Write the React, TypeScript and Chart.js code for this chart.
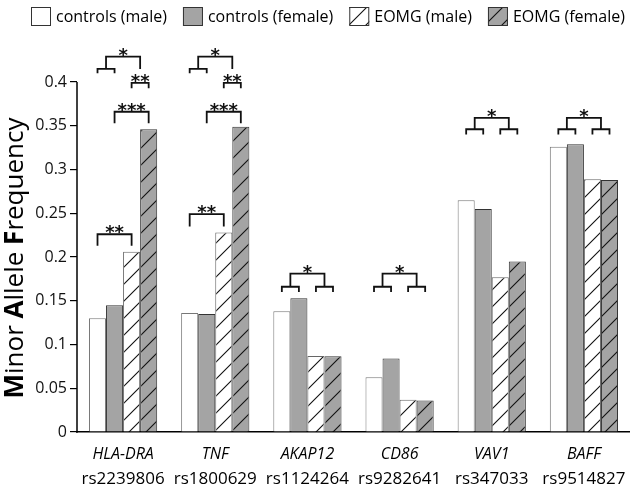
import React, { useEffect, useRef } from 'react';
import { Chart, registerables } from 'chart.js';
Chart.register(...registerables);

// ---- data ----
const genes = ['HLA-DRA', 'TNF', 'AKAP12', 'CD86', 'VAV1', 'BAFF'];
const snps = ['rs2239806', 'rs1800629', 'rs1124264', 'rs9282641', 'rs347033', 'rs9514827'];
const seriesNames = ['controls (male)', 'controls (female)', 'EOMG (male)', 'EOMG (female)'];
const controlsMale = [0.130, 0.136, 0.138, 0.0625, 0.265, 0.326];
const controlsFemale = [0.145, 0.135, 0.153, 0.084, 0.255, 0.329];
const eomgMale = [0.206, 0.228, 0.087, 0.037, 0.177, 0.289];
const eomgFemale = [0.346, 0.349, 0.0865, 0.036, 0.195, 0.288];
const yAxisTop = 0.4;
const yStep = 0.05;
const yMax = 0.4423;
const yTitleParts = [
  { t: 'M', b: true }, { t: 'inor ', b: false },
  { t: 'A', b: true }, { t: 'llele ', b: false },
  { t: 'F', b: true }, { t: 'requency', b: false },
];
// significance brackets (values in data units)
const simpleBrackets = [
  { cat: 0, from: 2, to: 3, y: 0.399, leg: 0.393, label: '**' },
  { cat: 0, from: 1, to: 3, y: 0.366, leg: 0.353, label: '***' },
  { cat: 0, from: 0, to: 2, y: 0.226, leg: 0.213, label: '**' },
  { cat: 1, from: 2, to: 3, y: 0.399, leg: 0.393, label: '**' },
  { cat: 1, from: 1, to: 3, y: 0.366, leg: 0.353, label: '***' },
  { cat: 1, from: 0, to: 2, y: 0.249, leg: 0.235, label: '**' },
];
const treeBrackets = [
  { cat: 0, top: 0.429, left: 0.415, leftLeg: 0.410, right: 0.415, rightLeg: null, label: '*' },
  { cat: 1, top: 0.429, left: 0.415, leftLeg: 0.410, right: 0.415, rightLeg: null, label: '*' },
  { cat: 2, top: 0.181, left: 0.166, leftLeg: 0.160, right: 0.166, rightLeg: 0.160, label: '*' },
  { cat: 3, top: 0.181, left: 0.166, leftLeg: 0.160, right: 0.166, rightLeg: 0.160, label: '*' },
  { cat: 4, top: 0.359, left: 0.346, leftLeg: 0.340, right: 0.346, rightLeg: 0.340, label: '*' },
  { cat: 5, top: 0.359, left: 0.346, leftLeg: 0.340, right: 0.346, rightLeg: 0.340, label: '*' },
];

const GRAY = '#a4a4a4';
const FONT = '"Open Sans", "Liberation Sans", sans-serif';

function makeHatch(bg: string, line: string) {
  const s = 17;
  const c = document.createElement('canvas');
  c.width = s; c.height = s;
  const g = c.getContext('2d')!;
  g.fillStyle = bg; g.fillRect(0, 0, s, s);
  g.strokeStyle = line; g.lineWidth = 1.1;
  g.beginPath();
  g.moveTo(0, s); g.lineTo(s, 0);
  g.moveTo(-3, 3); g.lineTo(3, -3);
  g.moveTo(s - 3, s + 3); g.lineTo(s + 3, s - 3);
  g.stroke();
  return g.createPattern(c, 'repeat')!;
}

const annotate = {
  id: 'annotate',
  afterDatasetsDraw(chart: any) {
    const ctx = chart.ctx;
    const ys = chart.scales.y;
    const bx = (cat: number, d: number) => chart.getDatasetMeta(d).data[cat].x;
    const py = (v: number) => ys.getPixelForValue(v);
    ctx.save();
    ctx.strokeStyle = '#111';
    ctx.lineWidth = 1.8;
    ctx.fillStyle = '#111';
    ctx.font = 'bold 18px "DejaVu Sans", sans-serif';
    ctx.textAlign = 'center';
    ctx.textBaseline = 'alphabetic';
    const star = (label: string, x: number, y: number) => {
      ctx.fillText(label, x, y + 4);
    };
    for (const b of simpleBrackets) {
      const x1 = bx(b.cat, b.from), x2 = bx(b.cat, b.to);
      ctx.beginPath();
      ctx.moveTo(x1, py(b.leg)); ctx.lineTo(x1, py(b.y)); ctx.lineTo(x2, py(b.y)); ctx.lineTo(x2, py(b.leg));
      ctx.stroke();
      star(b.label, (x1 + x2) / 2, py(b.y));
    }
    for (const b of treeBrackets) {
      const a0 = bx(b.cat, 0), a1 = bx(b.cat, 1), a2 = bx(b.cat, 2), a3 = bx(b.cat, 3);
      const lc = (a0 + a1) / 2, rc = (a2 + a3) / 2;
      ctx.beginPath();
      ctx.moveTo(a0, py(b.leftLeg)); ctx.lineTo(a0, py(b.left)); ctx.lineTo(a1, py(b.left)); ctx.lineTo(a1, py(b.leftLeg));
      if (b.rightLeg !== null) {
        ctx.moveTo(a2, py(b.rightLeg)); ctx.lineTo(a2, py(b.right)); ctx.lineTo(a3, py(b.right)); ctx.lineTo(a3, py(b.rightLeg));
      }
      ctx.moveTo(lc, py(b.left)); ctx.lineTo(lc, py(b.top)); ctx.lineTo(rc, py(b.top)); ctx.lineTo(rc, py(b.right));
      ctx.stroke();
      star(b.label, (lc + rc) / 2, py(b.top));
    }
    ctx.restore();
  },
  afterDraw(chart: any) {
    const ctx = chart.ctx;
    const ys = chart.scales.y;
    const xs = chart.scales.x;
    const area = chart.chartArea;
    ctx.save();
    // y axis line up to top tick
    ctx.strokeStyle = '#000';
    ctx.lineWidth = 1.5;
    ctx.beginPath();
    ctx.moveTo(area.left, ys.getPixelForValue(0) + 0.75);
    ctx.lineTo(area.left, ys.getPixelForValue(yAxisTop));
    ctx.stroke();
    // x labels
    ctx.fillStyle = '#000';
    ctx.textAlign = 'center';
    ctx.textBaseline = 'alphabetic';
    genes.forEach((g, i) => {
      const x = xs.getPixelForValue(i);
      ctx.font = `italic 16px ${FONT}`;
      ctx.fillText(g, x, 459);
      ctx.font = `17px ${FONT}`;
      ctx.fillText(snps[i], x, 484);
    });
    // y title
    const yc = (ys.getPixelForValue(0) + ys.getPixelForValue(yAxisTop)) / 2 + 1;
    ctx.translate(23, yc);
    ctx.rotate(-Math.PI / 2);
    ctx.textAlign = 'left';
    const widths = yTitleParts.map((p) => {
      ctx.font = `${p.b ? 'bold ' : ''}26px ${FONT}`;
      return ctx.measureText(p.t).width;
    });
    const total = widths.reduce((a, b) => a + b, 0);
    let tx = -total / 2;
    yTitleParts.forEach((p, i) => {
      ctx.font = `${p.b ? 'bold ' : ''}26px ${FONT}`;
      ctx.fillText(p.t, tx, 0);
      tx += widths[i];
    });
    ctx.restore();
    // legend
    ctx.save();
    ctx.font = `16px ${FONT}`;
    const items = chart.data.datasets.map((ds: any) => ({
      label: ds.label, fill: ds.backgroundColor, w: ctx.measureText(ds.label).width,
    }));
    const boxW = 20, boxH = 19, gap = 5, itemGap = 16;
    const tw = items.reduce((s: number, it: any) => s + boxW + gap + it.w, 0) + itemGap * (items.length - 1);
    let lx = 328 - tw / 2;
    ctx.textBaseline = 'middle';
    ctx.textAlign = 'left';
    for (const it of items) {
      ctx.fillStyle = it.fill;
      ctx.fillRect(lx, 7, boxW, boxH);
      ctx.strokeStyle = '#333';
      ctx.lineWidth = 1;
      ctx.strokeRect(lx + 0.5, 7.5, boxW - 1, boxH - 1);
      ctx.fillStyle = '#000';
      ctx.fillText(it.label, lx + boxW + gap, 17);
      lx += boxW + gap + it.w + itemGap;
    }
    ctx.restore();
  },
};

export default function App() {
  const ref = useRef<HTMLCanvasElement | null>(null);
  useEffect(() => {
    const hatchWhite = makeHatch('#ffffff', '#111');
    const hatchGray = makeHatch(GRAY, '#111');
    const chart = new Chart(ref.current!, {
      type: 'bar',
      data: {
        labels: genes,
        datasets: [
          { label: seriesNames[0], data: controlsMale, backgroundColor: '#ffffff', borderColor: '#777', borderWidth: 1 },
          { label: seriesNames[1], data: controlsFemale, backgroundColor: GRAY, borderColor: '#333', borderWidth: 1 },
          { label: seriesNames[2], data: eomgMale, backgroundColor: hatchWhite as any, borderColor: '#666', borderWidth: 1 },
          { label: seriesNames[3], data: eomgFemale, backgroundColor: hatchGray as any, borderColor: '#333', borderWidth: 1 },
        ],
      },
      options: {
        animation: false,
        responsive: true,
        maintainAspectRatio: false,
        layout: { padding: { top: 45, left: 0, right: 0, bottom: 0 } },
        datasets: { bar: { categoryPercentage: 0.74, barPercentage: 1 } },
        plugins: { legend: { display: false }, tooltip: { enabled: false }, title: { display: false } },
        scales: {
          x: {
            grid: { display: true, drawOnChartArea: false, drawTicks: false },
            border: { display: true, color: '#000', width: 1.5 },
            ticks: { display: false },
            afterFit: (s: any) => { s.height = 55; },
          },
          y: {
            min: 0,
            max: yMax,
            afterBuildTicks: (s: any) => { s.ticks = s.ticks.filter((t: any) => t.value <= yAxisTop + 1e-9); },
            ticks: {
              stepSize: yStep,
              color: '#111',
              font: { family: FONT, size: 16 },
              padding: 3,
              callback: (v: any) => String(Number(Number(v).toFixed(2))),
            },
            grid: { display: true, drawOnChartArea: false, drawTicks: true, tickLength: 7, color: '#000', lineWidth: 1.2 },
            border: { display: false },
            afterFit: (s: any) => { s.width = 77; },
          },
        },
      },
      plugins: [annotate],
    });
    return () => chart.destroy();
  }, []);
  return (
    <div style={{ position: 'absolute', left: 0, top: 0, width: 630, height: 487, background: '#fff' }}>
      <canvas ref={ref} />
    </div>
  );
}
